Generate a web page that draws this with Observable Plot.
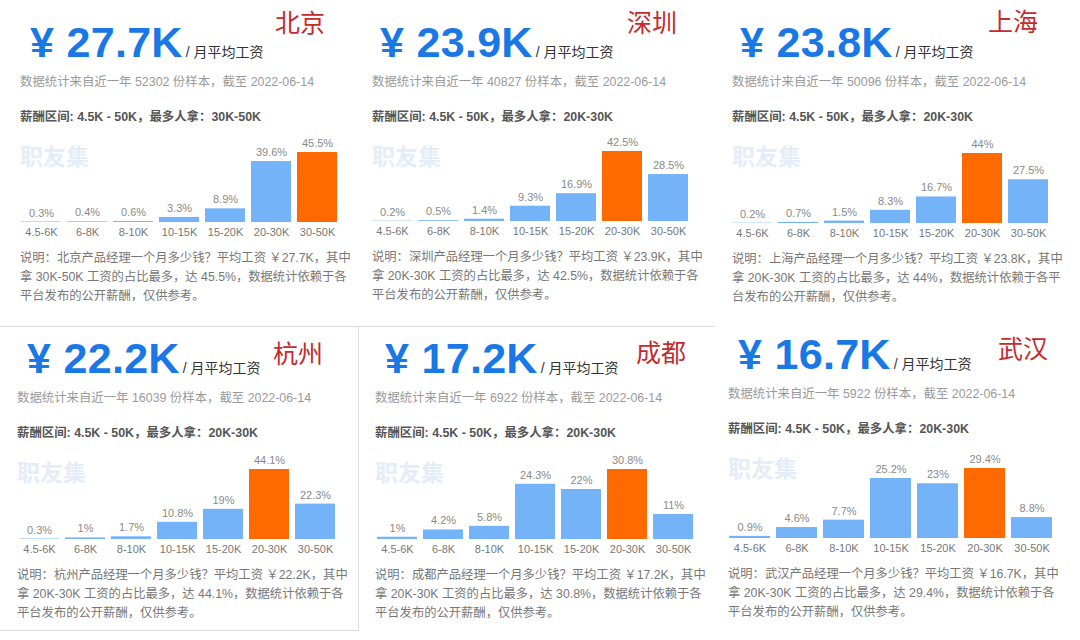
<!DOCTYPE html>
<html><head><meta charset="utf-8">
<script src="https://cdn.jsdelivr.net/npm/d3@7"></script>
<script src="https://cdn.jsdelivr.net/npm/@observablehq/plot@0.6"></script>
<style>
html,body{margin:0;padding:0;background:#fff;}
body{width:1080px;height:640px;position:relative;overflow:hidden;font-family:"Liberation Sans","Noto Sans CJK SC",sans-serif;}
.panel{position:absolute;width:360px;height:320px;}
.panel > div{position:absolute;white-space:nowrap;}
.big{font-size:43px;font-weight:bold;color:#1a78e6;line-height:43px;letter-spacing:0.3px;}
.big .unit{font-size:14px;font-weight:normal;color:#333;line-height:1;margin-left:3px;letter-spacing:0;}
.city{font-family:"Noto Sans CJK SC",sans-serif;font-size:25px;line-height:25px;color:#c52a2d;}
.sub{font-size:12.4px;line-height:16px;color:#9a9a9a;}
.range{font-size:12.4px;line-height:16px;color:#555;font-weight:bold;}
.wm{font-family:"Noto Sans CJK SC",sans-serif;font-size:23px;line-height:28px;font-weight:bold;color:#e4edf9;}
.desc{font-size:12.3px;line-height:19px;color:#777;}
.desc div{white-space:nowrap;}
.line{position:absolute;background:#dcdcdc;}
</style></head>
<body>
<script>
// ---- data ----
const categories = ["4.5-6K","6-8K","8-10K","10-15K","15-20K","20-30K","30-50K"];
const cities = ["北京","深圳","上海","杭州","成都","武汉"];
const avgSalary = ["27.7","23.9","23.8","22.2","17.2","16.7"];
const sampleCounts = ["52302","40827","50096","16039","6922","5922"];
const topRange = ["30K-50K","20K-30K","20K-30K","20K-30K","20K-30K","20K-30K"];
const salaryRange = "4.5K - 50K";
const asOfDate = "2022-06-14";
const beijingShares  = [0.3, 0.4, 0.6, 3.3, 8.9, 39.6, 45.5];
const shenzhenShares = [0.2, 0.5, 1.4, 9.3, 16.9, 42.5, 28.5];
const shanghaiShares = [0.2, 0.7, 1.5, 8.3, 16.7, 44, 27.5];
const hangzhouShares = [0.3, 1, 1.7, 10.8, 19, 44.1, 22.3];
const chengduShares  = [1, 4.2, 5.8, 24.3, 22, 30.8, 11];
const wuhanShares    = [0.9, 4.6, 7.7, 25.2, 23, 29.4, 8.8];
const sharesByCity = [beijingShares, shenzhenShares, shanghaiShares, hangzhouShares, chengduShares, wuhanShares];

// ---- layout (panel origins & small per-panel offsets) ----
const layout = [
  {ox:0,   oy:0,   bx:30, cx:275, cy:9,  base:222, cw:318},
  {ox:352, oy:0,   bx:28, cx:275, cy:9,  base:221, cw:317},
  {ox:712, oy:0,   bx:28, cx:276, cy:8,  base:223, cw:317},
  {ox:-3,  oy:316, bx:30, cx:276, cy:24, base:223, cw:320},
  {ox:355, oy:316, bx:30, cx:281, cy:23, base:223, cw:320},
  {ox:708, oy:312, bx:30, cx:290, cy:23, base:226, cw:325}
];
const FONT = '"Liberation Sans","Noto Sans CJK SC",sans-serif';
const BAR_H = 70, MT = 18, MB = 22;

cities.forEach((city, i) => {
  const L = layout[i];
  const shares = sharesByCity[i];
  const max = d3.max(shares);
  const data = categories.map((c, j) => ({cat: c, v: shares[j]}));
  const p = document.createElement("div");
  p.className = "panel";
  p.style.left = L.ox + "px"; p.style.top = L.oy + "px";
  p.innerHTML = `
    <div class="big" style="left:${L.bx}px;top:21px">¥ ${avgSalary[i]}K<span class="unit">/ 月平均工资</span></div>
    <div class="city" style="left:${L.cx}px;top:${L.cy}px">${city}</div>
    <div class="sub" style="left:20px;top:74px">数据统计来自近一年 ${sampleCounts[i]} 份样本，截至 ${asOfDate}</div>
    <div class="range" style="left:20px;top:109px">薪酬区间: ${salaryRange}，最多人拿：${topRange[i]}</div>
    <div class="wm" style="left:20px;top:141px">职友集</div>
    <div class="desc" style="left:20px;top:${L.base + 27}px;">
      <div>说明：${city}产品经理一个月多少钱？平均工资 ￥${avgSalary[i]}K，其中</div>
      <div style="white-space:normal;width:333px">拿 ${topRange[i]} 工资的占比最多，达 ${max}%，数据统计依赖于各平台发布的公开薪酬，仅供参考。</div>
    </div>`;
  const chart = Plot.plot({
    width: L.cw, height: MT + BAR_H + MB,
    marginTop: MT, marginBottom: MB, marginLeft: 0, marginRight: 0,
    x: {domain: categories, paddingInner: 0.13, paddingOuter: 0, label: null, tickSize: 0, tickPadding: 6},
    y: {domain: [0, max], axis: null},
    style: {fontFamily: FONT, fontSize: "11px", color: "#777", background: "transparent", overflow: "visible"},
    marks: [
      Plot.barY(data, {x: "cat", y: "v", fill: d => d.v === max ? "#ff6a00" : "#74b3f7"}),
      Plot.text(data, {x: "cat", y: "v", text: d => d.v + "%", dy: -9, fill: "#8a8a8a", fontSize: 11})
    ]
  });
  const wrap = document.createElement("div");
  wrap.style.left = "20px";
  wrap.style.top = (L.base - BAR_H - MT) + "px";
  wrap.appendChild(chart);
  p.appendChild(wrap);
  document.body.appendChild(p);
});

// panel frame lines
[
  {l:0, t:326, w:715, h:1},
  {l:358, t:326, w:1, h:305},
  {l:0, t:630, w:359, h:1}
].forEach(s => {
  const d = document.createElement("div");
  d.className = "line";
  Object.assign(d.style, {left:s.l+"px", top:s.t+"px", width:s.w+"px", height:s.h+"px"});
  document.body.appendChild(d);
});
</script>
</body></html>
